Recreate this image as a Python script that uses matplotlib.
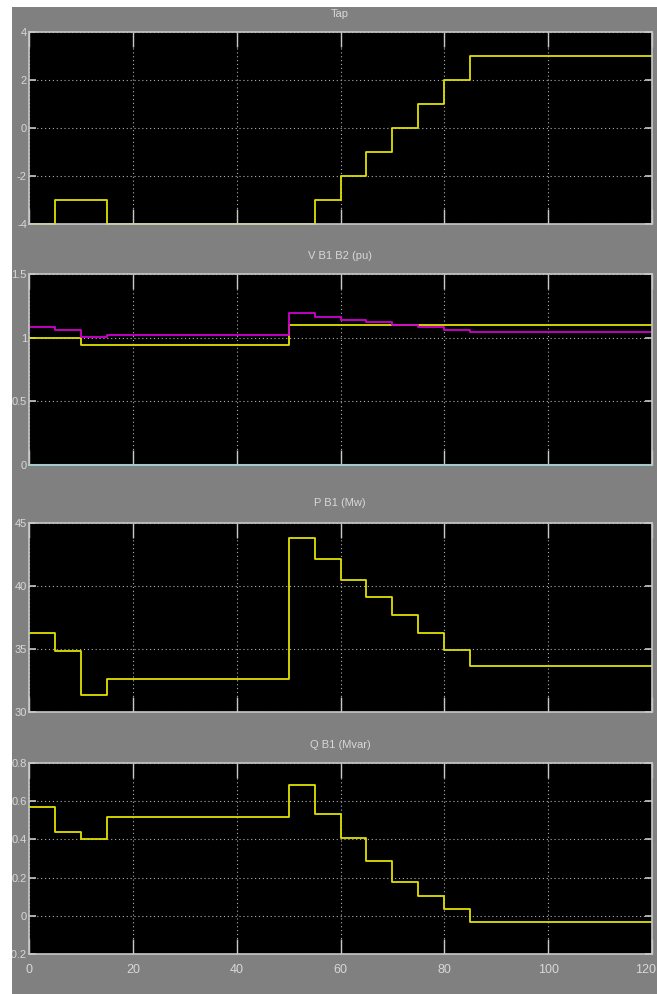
import numpy as np
import matplotlib.pyplot as plt
from matplotlib.patches import Rectangle
from matplotlib.transforms import ScaledTranslation

# Scope traces (piecewise constant, value holds until next time)
t_tap = [0, 5, 15, 55, 60, 65, 70, 75, 80, 85, 120]
tap = [-4, -3, -4, -3, -2, -1, 0, 1, 2, 3, 3]

t = [0, 5, 10, 15, 50, 55, 60, 65, 70, 75, 80, 85, 120]
v_b1 = [0.995, 0.995, 0.945, 0.945, 1.097, 1.097, 1.097, 1.097, 1.097, 1.097, 1.097, 1.097, 1.097]
v_b2 = [1.086, 1.06, 1.008, 1.024, 1.19, 1.163, 1.137, 1.123, 1.097, 1.087, 1.06, 1.045, 1.045]
v_ref = [0] * len(t)
p_b1 = [36.25, 34.84, 31.35, 32.65, 43.83, 42.17, 40.5, 39.1, 37.67, 36.25, 34.95, 33.67, 33.67]
q_b1 = [0.568, 0.44, 0.40, 0.519, 0.686, 0.534, 0.409, 0.288, 0.177, 0.102, 0.034, -0.032, -0.032]

titles = ["Tap", "V B1 B2 (pu)", "P B1 (Mw)", "Q B1 (Mvar)"]
yticks = [[-4, -2, 0, 2, 4], [0, 0.5, 1, 1.5], [30, 35, 40, 45], [-0.2, 0, 0.2, 0.4, 0.6, 0.8]]
yticklabels = [["-4", "-2", "0", "2", "4"], ["0", "0.5", "1", "1.5"],
               ["30", "35", "40", "45"], ["-0.2", "0", "0.2", "0.4", "0.6", "0.8"]]
xticks = [0, 20, 40, 60, 80, 100, 120]

W, H = 657, 994
font = ["Liberation Sans Narrow", "Liberation Sans", "DejaVu Sans"]
txt_col = "#d8d8d8"
yellow = "#e0e000"

fig = plt.figure(figsize=(W / 100, H / 100), dpi=100, facecolor="#808080")
# thin white margin on the top and left of the scope window
fig.patches.append(Rectangle((0, 1 - 7 / H), 1, 7 / H, transform=fig.transFigure,
                             facecolor="white", edgecolor="none"))
fig.patches.append(Rectangle((0, 0), 12 / W, 1, transform=fig.transFigure,
                             facecolor="white", edgecolor="none"))

# axes boxes in pixel coordinates (top, bottom)
boxes = [(32, 224), (274, 465), (523, 712), (763, 954)]
title_y = [14, 256, 503, 745]
left, right = 29, 652

axes = []
for i, (top, bot) in enumerate(boxes):
    ax = fig.add_axes([left / W, (H - bot) / H, (right - left) / W, (bot - top) / H])
    ax.set_facecolor("black")
    for s in ax.spines.values():
        s.set_color("#c8c8c8")
        s.set_linewidth(1.2)
    ax.set_xlim(0, 120)
    ax.set_ylim(yticks[i][0], yticks[i][-1])
    ax.set_xticks(xticks)
    ax.set_yticks(yticks[i])
    ax.set_yticklabels(yticklabels[i], family=font, fontsize=8, color=txt_col)
    ax.tick_params(axis="x", direction="in", length=11, width=1, color="#c8c8c8",
                   top=True, bottom=True, labelbottom=(i == 3), pad=7)
    ax.tick_params(axis="y", direction="in", length=5, width=1.2, color="#c8c8c8",
                   left=True, right=True, pad=1.5)
    if i == 3:
        ax.set_xticklabels([str(x) for x in xticks], family=font, fontsize=9, color=txt_col)
        # last label sits against the right edge of the window
        last = ax.get_xticklabels()[-1]
        last.set_ha("right")
        last.set_transform(last.get_transform() + ScaledTranslation(4 / 100, 0, fig.dpi_scale_trans))
    ax.grid(True, color="#b0b0b0", linestyle=(0, (1, 2.5)), linewidth=0.8)
    fig.text(340 / W, 1 - title_y[i] / H, titles[i], family=font, fontsize=8,
             color=txt_col, ha="center", va="center")
    axes.append(ax)

axes[0].step(t_tap, tap, where="post", color=yellow, lw=1.3, clip_on=False)
axes[1].step(t, v_ref, where="post", color="#00d8e0", lw=1.5, clip_on=False)
axes[1].step(t, v_b1, where="post", color=yellow, lw=1.3)
axes[1].step(t, v_b2, where="post", color="#d000d0", lw=1.3)
axes[2].step(t, p_b1, where="post", color=yellow, lw=1.3)
axes[3].step(t, q_b1, where="post", color=yellow, lw=1.3)

fig.savefig("out.png", dpi=100, facecolor="#808080")
